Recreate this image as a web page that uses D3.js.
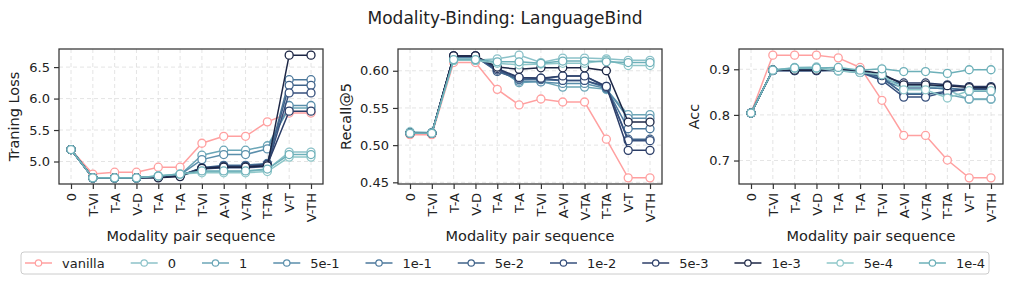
<!DOCTYPE html>
<html>
<head>
<meta charset="utf-8">
<script src="https://cdn.jsdelivr.net/npm/d3@7"></script>
<style>
  body { margin: 0; background: #fff; }
  svg { font-family: "DejaVu Sans", sans-serif; }
</style>
</head>
<body>
<svg id="chart" width="1011" height="283"></svg>
<script>
var categories = ["0", "T-VI", "T-A", "V-D", "T-A", "T-A", "T-VI", "A-VI", "V-TA", "T-TA", "V-T", "V-TH"];
var seriesNames = ["vanilla", "0", "1", "5e-1", "1e-1", "5e-2", "1e-2", "5e-3", "1e-3", "5e-4", "1e-4"];
var seriesColors = ["#ffa0a0", "#8cc2c9", "#6ba6b7", "#5a8eab", "#4b779b", "#3f6289", "#364f7c", "#2c3e68", "#1c2645", "#8ec7c9", "#6db0b9"];

// training loss, one row per series
var lossData = [
  [5.19, 4.80, 4.83, 4.83, 4.91, 4.91, 5.29, 5.40, 5.40, 5.63, 5.77, 5.77],
  [5.19, 4.74, 4.74, 4.74, 4.77, 4.80, 4.84, 4.84, 4.84, 4.87, 5.15, 5.15],
  [5.19, 4.74, 4.74, 4.74, 4.76, 4.79, 5.10, 5.18, 5.18, 5.25, 5.85, 5.85],
  [5.19, 4.74, 4.74, 4.74, 4.76, 4.79, 5.03, 5.11, 5.11, 5.20, 5.89, 5.89],
  [5.19, 4.74, 4.74, 4.74, 4.75, 4.78, 4.90, 4.94, 4.94, 4.97, 6.30, 6.30],
  [5.19, 4.74, 4.74, 4.74, 4.75, 4.78, 4.89, 4.93, 4.93, 4.96, 6.21, 6.21],
  [5.19, 4.74, 4.74, 4.74, 4.75, 4.78, 4.88, 4.90, 4.90, 4.92, 6.09, 6.09],
  [5.19, 4.74, 4.74, 4.74, 4.75, 4.77, 4.90, 4.92, 4.92, 4.95, 5.80, 5.80],
  [5.19, 4.74, 4.74, 4.74, 4.74, 4.76, 4.89, 4.91, 4.91, 4.93, 6.69, 6.69],
  [5.19, 4.74, 4.74, 4.74, 4.77, 4.80, 4.82, 4.82, 4.82, 4.84, 5.07, 5.07],
  [5.19, 4.74, 4.74, 4.74, 4.77, 4.80, 4.85, 4.85, 4.85, 4.88, 5.11, 5.11]
];

var recallData = [
  [0.514, 0.514, 0.611, 0.611, 0.575, 0.554, 0.562, 0.558, 0.558, 0.508, 0.456, 0.456],
  [0.518, 0.517, 0.614, 0.614, 0.616, 0.621, 0.611, 0.617, 0.617, 0.616, 0.614, 0.614],
  [0.516, 0.516, 0.617, 0.617, 0.604, 0.584, 0.586, 0.578, 0.578, 0.575, 0.541, 0.541],
  [0.516, 0.516, 0.618, 0.618, 0.602, 0.586, 0.585, 0.583, 0.583, 0.576, 0.536, 0.536],
  [0.516, 0.516, 0.619, 0.619, 0.600, 0.588, 0.588, 0.587, 0.587, 0.577, 0.522, 0.522],
  [0.516, 0.516, 0.619, 0.619, 0.599, 0.589, 0.589, 0.593, 0.593, 0.578, 0.508, 0.508],
  [0.516, 0.516, 0.620, 0.620, 0.601, 0.591, 0.590, 0.587, 0.587, 0.579, 0.506, 0.506],
  [0.516, 0.516, 0.620, 0.620, 0.603, 0.591, 0.590, 0.593, 0.593, 0.579, 0.493, 0.493],
  [0.516, 0.516, 0.620, 0.620, 0.605, 0.602, 0.604, 0.604, 0.604, 0.600, 0.531, 0.531],
  [0.516, 0.516, 0.614, 0.614, 0.610, 0.608, 0.609, 0.610, 0.610, 0.614, 0.607, 0.607],
  [0.516, 0.516, 0.615, 0.615, 0.612, 0.612, 0.610, 0.613, 0.613, 0.612, 0.611, 0.611]
];

var accData = [
  [0.804, 0.931, 0.931, 0.931, 0.925, 0.904, 0.832, 0.755, 0.755, 0.701, 0.662, 0.662],
  [0.804, 0.898, 0.904, 0.905, 0.896, 0.896, 0.884, 0.863, 0.863, 0.855, 0.834, 0.834],
  [0.804, 0.899, 0.900, 0.900, 0.897, 0.893, 0.880, 0.847, 0.847, 0.845, 0.835, 0.835],
  [0.804, 0.898, 0.899, 0.899, 0.899, 0.894, 0.878, 0.866, 0.866, 0.860, 0.852, 0.852],
  [0.804, 0.898, 0.898, 0.898, 0.898, 0.893, 0.876, 0.859, 0.859, 0.858, 0.855, 0.855],
  [0.804, 0.898, 0.897, 0.897, 0.898, 0.896, 0.882, 0.845, 0.845, 0.852, 0.858, 0.858],
  [0.804, 0.897, 0.897, 0.897, 0.898, 0.895, 0.876, 0.839, 0.839, 0.851, 0.857, 0.857],
  [0.804, 0.898, 0.898, 0.898, 0.899, 0.897, 0.886, 0.870, 0.870, 0.866, 0.862, 0.862],
  [0.804, 0.898, 0.898, 0.898, 0.900, 0.898, 0.890, 0.866, 0.866, 0.864, 0.860, 0.860],
  [0.804, 0.898, 0.902, 0.902, 0.897, 0.893, 0.888, 0.855, 0.855, 0.837, 0.853, 0.853],
  [0.804, 0.898, 0.903, 0.903, 0.904, 0.898, 0.901, 0.895, 0.895, 0.891, 0.899, 0.899]
];

var lossTicks = [5.0, 5.5, 6.0, 6.5];
var recallTicks = [0.45, 0.50, 0.55, 0.60];
var accTicks = [0.7, 0.8, 0.9];

var panels = [
  {left: 59, label: "Traning Loss", labelOff: 40, data: lossData, ticks: lossTicks, fmt: d3.format(".1f")},
  {left: 398, label: "Recall@5", labelOff: 47, data: recallData, ticks: recallTicks, fmt: d3.format(".2f")},
  {left: 739, label: "Acc", labelOff: 40, data: accData, ticks: accTicks, fmt: d3.format(".1f")}
];

var svg = d3.select("#chart");
var plotTop = 49, plotBottom = 184, pw = 264;
var axisColor = "#333";

svg.append("text")
  .attr("x", 505).attr("y", 24)
  .attr("text-anchor", "middle")
  .attr("font-size", 17).attr("fill", "#222")
  .text("Modality-Binding: LanguageBind");

panels.forEach(function(p){
  var g = svg.append("g");
  var x = d3.scaleLinear().domain([-0.55, categories.length - 1 + 0.55]).range([p.left, p.left + pw]);
  var all = d3.merge(p.data);
  var lo = d3.min(all), hi = d3.max(all), pad = (hi - lo) * 0.05;
  var y = d3.scaleLinear().domain([lo - pad, hi + pad]).range([plotBottom, plotTop]);

  // grid
  g.append("g").selectAll("line").data(categories).join("line")
    .attr("x1", function(d, i){ return x(i); }).attr("x2", function(d, i){ return x(i); })
    .attr("y1", plotTop).attr("y2", plotBottom)
    .attr("stroke", "#ddd").attr("stroke-dasharray", "4,3").attr("stroke-width", 0.8);
  g.append("g").selectAll("line").data(p.ticks).join("line")
    .attr("x1", p.left).attr("x2", p.left + pw)
    .attr("y1", function(d){ return y(d); }).attr("y2", function(d){ return y(d); })
    .attr("stroke", "#ddd").attr("stroke-dasharray", "4,3").attr("stroke-width", 0.8);

  var line = d3.line()
    .x(function(d, i){ return x(i); })
    .y(function(d){ return y(d); });

  p.data.forEach(function(vals, s){
    var c = seriesColors[s];
    g.append("path")
      .attr("d", line(vals))
      .attr("fill", "none").attr("stroke", c).attr("stroke-width", 1.5);
    g.append("g").selectAll("circle").data(vals).join("circle")
      .attr("cx", function(d, i){ return x(i); })
      .attr("cy", function(d){ return y(d); })
      .attr("r", 4)
      .attr("fill", "#fff").attr("stroke", c).attr("stroke-width", 1.3);
  });

  // frame
  g.append("rect")
    .attr("x", p.left).attr("y", plotTop).attr("width", pw).attr("height", plotBottom - plotTop)
    .attr("fill", "none").attr("stroke", axisColor).attr("stroke-width", 1.25);

  var yAxis = d3.axisLeft(y).tickValues(p.ticks).tickFormat(p.fmt).tickSize(5).tickPadding(4);
  var ya = g.append("g").attr("transform", "translate(" + p.left + ",0)").call(yAxis);
  ya.select(".domain").remove();
  ya.selectAll("text").attr("font-size", 13).attr("fill", "#222").attr("font-family", "DejaVu Sans");
  ya.selectAll("line").attr("stroke", axisColor).attr("stroke-width", 1.2);

  var xAxis = d3.axisBottom(x).tickValues(d3.range(categories.length))
    .tickFormat(function(i){ return categories[i]; }).tickSize(5);
  var xa = g.append("g").attr("transform", "translate(0," + plotBottom + ")").call(xAxis);
  xa.select(".domain").remove();
  xa.selectAll("line").attr("stroke", axisColor).attr("stroke-width", 1.2);
  xa.selectAll("text")
    .attr("font-size", 13).attr("fill", "#222").attr("font-family", "DejaVu Sans")
    .attr("transform", "rotate(-90)")
    .attr("text-anchor", "end")
    .attr("x", -9).attr("y", 0).attr("dy", "0.35em");

  g.append("text")
    .attr("x", p.left + pw / 2).attr("y", 241)
    .attr("text-anchor", "middle").attr("font-size", 14.5).attr("fill", "#222")
    .text("Modality pair sequence");

  g.append("text")
    .attr("transform", "translate(" + (p.left - p.labelOff) + "," + ((plotTop + plotBottom) / 2) + ") rotate(-90)")
    .attr("text-anchor", "middle").attr("font-size", 14.5).attr("fill", "#222")
    .text(p.label);
});

// legend
var leg = svg.append("g");
leg.append("rect")
  .attr("x", 21).attr("y", 252).attr("width", 968).attr("height", 22).attr("rx", 3)
  .attr("fill", "#fff").attr("stroke", "#ccc").attr("stroke-width", 1);
var lx = 25, ly = 263;
seriesNames.forEach(function(name, s){
  var c = seriesColors[s];
  var item = leg.append("g");
  item.append("line").attr("x1", lx).attr("x2", lx + 27).attr("y1", ly).attr("y2", ly)
    .attr("stroke", c).attr("stroke-width", 1.5);
  item.append("circle").attr("cx", lx + 13.5).attr("cy", ly).attr("r", 3.2)
    .attr("fill", "#fff").attr("stroke", c).attr("stroke-width", 1.2);
  var t = item.append("text").attr("x", lx + 37).attr("y", ly).attr("dy", "0.35em")
    .attr("font-size", 13).attr("fill", "#222").text(name);
  lx = lx + 37 + t.node().getComputedTextLength() + 26;
});
</script>
</body>
</html>
